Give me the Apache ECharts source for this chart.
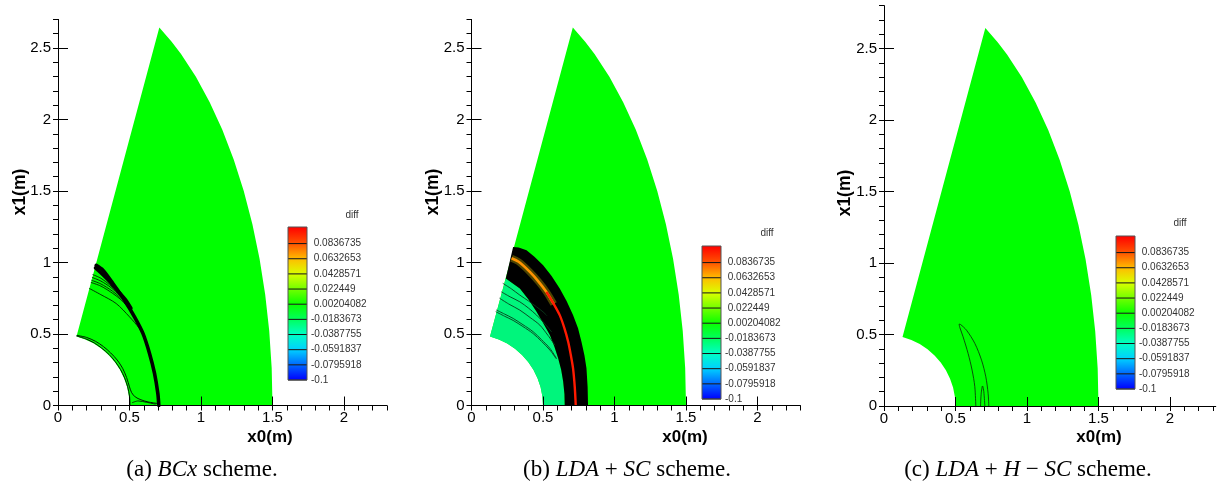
<!DOCTYPE html>
<html>
<head>
<meta charset="utf-8">
<script src="https://cdn.jsdelivr.net/npm/echarts@6/dist/echarts.min.js"></script>
<style>
  html, body { margin: 0; padding: 0; background: #fff; }
  #chart { width: 1217px; height: 491px; }
</style>
</head>
<body>
<div id="chart"></div>
<script>
// ---- axis ticks (metres) ----
const majorX = [0, 0.5, 1, 1.5, 2];
const majorY = [0, 0.5, 1, 1.5, 2, 2.5];
const minorX = [0, 0.1, 0.2, 0.3, 0.4, 0.5, 0.6, 0.7, 0.8, 0.9, 1, 1.1, 1.2, 1.3, 1.4, 1.5, 1.6, 1.7, 1.8, 1.9, 2, 2.1, 2.2, 2.3];
const minorY = [0, 0.1, 0.2, 0.3, 0.4, 0.5, 0.6, 0.7, 0.8, 0.9, 1, 1.1, 1.2, 1.3, 1.4, 1.5, 1.6, 1.7, 1.8, 1.9, 2, 2.1, 2.2, 2.3, 2.4, 2.5, 2.6, 2.7, 2.8];

// ---- contour legend levels ----
const cbTicks = [-0.1, -0.0795918, -0.0591837, -0.0387755, -0.0183673, 0.00204082, 0.022449, 0.0428571, 0.0632653, 0.0836735];
const cbLabels = ['-0.1', '-0.0795918', '-0.0591837', '-0.0387755', '-0.0183673', '0.00204082', '0.022449', '0.0428571', '0.0632653', '0.0836735'];
const cbTop = 0.106;

// ---- computational domain ----
const outerEdge = [[1.5, 0], [1.4943, 0.2615], [1.4772, 0.5209], [1.4489, 0.7765], [1.4095, 1.0261], [1.3595, 1.2679], [1.299, 1.5], [1.2287, 1.7207], [1.1491, 1.9284], [1.0607, 2.1213], [0.9642, 2.2981], [0.8604, 2.4575], [0.7949, 2.5441], [0.7086, 2.6438]];
const innerArc = [[0.1294, 0.483], [0.1913, 0.4619], [0.25, 0.433], [0.3044, 0.3967], [0.3536, 0.3536], [0.3967, 0.3044], [0.433, 0.25], [0.4619, 0.1913], [0.483, 0.1294], [0.4957, 0.0653], [0.5, 0]];

// ---- (a) BCx ----
const aShock = [[0.267, 0.98], [0.314, 0.946], [0.384, 0.853], [0.465, 0.736], [0.535, 0.62], [0.594, 0.504], [0.64, 0.364], [0.675, 0.225], [0.698, 0.085], [0.705, 0]];
const aShockTop = [[0.262, 0.962], [0.3, 0.928], [0.36, 0.868], [0.42, 0.8], [0.47, 0.742], [0.51, 0.68]];
const aFan1 = [[0.244, 0.915], [0.3, 0.89], [0.36, 0.845], [0.42, 0.79], [0.47, 0.74]];
const aFan2 = [[0.24, 0.895], [0.3, 0.87], [0.37, 0.825], [0.43, 0.77], [0.48, 0.725]];
const aFan3 = [[0.236, 0.875], [0.3, 0.85], [0.38, 0.8], [0.44, 0.75], [0.5, 0.69]];
const aFan4 = [[0.232, 0.86], [0.3, 0.835], [0.384, 0.783], [0.44, 0.74], [0.477, 0.701], [0.52, 0.65]];
const aFan5 = [[0.22, 0.818], [0.3, 0.775], [0.407, 0.713], [0.5, 0.62], [0.57, 0.539], [0.594, 0.504]];
const aInner1 = [[0.131, 0.486], [0.194, 0.466], [0.253, 0.438], [0.307, 0.4], [0.357, 0.357], [0.4, 0.307], [0.437, 0.252], [0.466, 0.193], [0.487, 0.131], [0.5, 0.066], [0.504, 0]];
const aInner2 = [[0.134, 0.49], [0.2, 0.476], [0.262, 0.449], [0.318, 0.412], [0.368, 0.368], [0.414, 0.318], [0.452, 0.26], [0.48, 0.195], [0.5, 0.13], [0.515, 0.09], [0.54, 0.06], [0.58, 0.04], [0.63, 0.025], [0.69, 0.015]];
const aFoot = [[0.52, 0.02], [0.56, 0.032], [0.62, 0.022], [0.68, 0.01]];

// ---- (b) LDA + SC ----
const bBandOuter = [[0.291, 1.108], [0.33, 1.105], [0.385, 1.085], [0.44, 1.04], [0.501, 0.98], [0.56, 0.905], [0.617, 0.818], [0.665, 0.73], [0.71, 0.632], [0.745, 0.54], [0.769, 0.446], [0.79, 0.35], [0.804, 0.261], [0.812, 0.13], [0.815, 0]];
const bBandInner = [[0.24, 0.888], [0.338, 0.818], [0.4, 0.74], [0.455, 0.655], [0.505, 0.57], [0.548, 0.493], [0.58, 0.41], [0.606, 0.33], [0.627, 0.25], [0.641, 0.167], [0.65, 0.08], [0.652, 0]];
const bRed = [[0.524, 0.794], [0.575, 0.71], [0.617, 0.632], [0.65, 0.54], [0.676, 0.446], [0.695, 0.35], [0.71, 0.261], [0.722, 0.13], [0.729, 0]];
const bOrange = [[0.28, 1.03], [0.33, 1.005], [0.408, 0.934], [0.47, 0.865], [0.524, 0.794], [0.575, 0.71]];
const bC1 = [[0.221, 0.853], [0.28, 0.815], [0.338, 0.772], [0.4, 0.73], [0.455, 0.69], [0.5, 0.655], [0.524, 0.632]];
const bC2 = [[0.21, 0.794], [0.27, 0.76], [0.338, 0.725], [0.4, 0.68], [0.455, 0.632], [0.51, 0.575], [0.559, 0.516]];
const bC3 = [[0.198, 0.749], [0.26, 0.71], [0.338, 0.667], [0.41, 0.615], [0.478, 0.562], [0.535, 0.49], [0.583, 0.423]];
const bC4 = [[0.175, 0.667], [0.23, 0.64], [0.291, 0.609], [0.36, 0.565], [0.431, 0.516], [0.49, 0.46], [0.548, 0.4], [0.594, 0.33]];
const bC5 = [[0.172, 0.655], [0.23, 0.625], [0.291, 0.595], [0.36, 0.552], [0.431, 0.503], [0.49, 0.448], [0.548, 0.388], [0.59, 0.33]];

// ---- (c) LDA + H - SC ----
const cLoopOuter = [[0.642, 0], [0.635, 0.135], [0.616, 0.251], [0.588, 0.368], [0.553, 0.484], [0.53, 0.55], [0.525, 0.572], [0.535, 0.57], [0.577, 0.53], [0.635, 0.438], [0.682, 0.321], [0.712, 0.204], [0.728, 0.089], [0.733, 0]];
const cLoopInner = [[0.675, 0], [0.68, 0.09], [0.689, 0.14], [0.698, 0.1], [0.705, 0]];

// ---- styling / layout ----
const SANS = '"Liberation Sans", Arial, Helvetica, sans-serif';
const SERIF = '"Liberation Serif", "Times New Roman", serif';
const PX = 143;            // pixels per metre, both axes (equal aspect)
const GREEN = '#00ff00';
const MINT = '#00f57c';

const layout = [
  { left: 58, base: 405.5, xMax: 2.3, yMax: 2.7, cbLeft: 288, cbBottom: 380, diff: [352, 215], xName: [270, 437], yName: [20, 192], caption: [202, 470], text: '(a) {i|BCx} scheme.' },
  { left: 471.5, base: 405.5, xMax: 2.3, yMax: 2.7, cbLeft: 702, cbBottom: 399, diff: [767, 233], xName: [685, 437], yName: [433, 192], caption: [627, 470], text: '(b) {i|LDA} + {i|SC} scheme.' },
  { left: 884, base: 406, xMax: 2.32, yMax: 2.8, cbLeft: 1116, cbBottom: 389, diff: [1180, 223], xName: [1099, 437], yName: [845, 193], caption: [1028, 470], text: '(c) {i|LDA} + {i|H} \u2212 {i|SC} scheme.' }
];

function hueColor(v) {
  const h = Math.max(0, Math.min(240, (0.1 - v) * 1200));
  return 'hsl(' + h.toFixed(1) + ',100%,50%)';
}

const cbBands = cbTicks.map((t, i) => [t, i < cbTicks.length - 1 ? cbTicks[i + 1] : cbTop]);

const grids = [], xAxes = [], yAxes = [], series = [], graphics = [];

layout.forEach((L, p) => {
  const gMain = grids.length;
  grids.push({ left: L.left, top: L.base - L.yMax * PX, width: L.xMax * PX, height: L.yMax * PX });
  const gBar = grids.length;
  grids.push({ left: L.cbLeft, top: L.cbBottom - 153, width: 19, height: 153 });

  const xMaj = xAxes.length;
  xAxes.push({
    type: 'value', gridIndex: gMain, min: 0, max: L.xMax, z: 10,
    axisLine: { show: true, onZero: false, lineStyle: { color: '#000', width: 1 } },
    axisTick: { show: true, inside: true, length: 9, customValues: majorX, lineStyle: { color: '#000', width: 1 } },
    axisLabel: { customValues: majorX, margin: 5, fontSize: 15, color: '#000', fontFamily: SANS },
    splitLine: { show: false }
  });
  xAxes.push({
    type: 'value', gridIndex: gMain, min: 0, max: L.xMax, z: 10,
    axisLine: { show: false },
    axisTick: { show: true, inside: true, length: 5, customValues: minorX.filter(v => v <= L.xMax + 1e-9), lineStyle: { color: '#000', width: 1 } },
    axisLabel: { show: false }, splitLine: { show: false }
  });
  const xBar = xAxes.length;
  xAxes.push({ type: 'value', gridIndex: gBar, min: 0, max: 1, show: false });

  const yMaj = yAxes.length;
  yAxes.push({
    type: 'value', gridIndex: gMain, min: 0, max: L.yMax, z: 10,
    axisLine: { show: true, onZero: false, lineStyle: { color: '#000', width: 1 } },
    axisTick: { show: true, inside: true, length: 10, customValues: majorY, lineStyle: { color: '#000', width: 1 } },
    axisLabel: { customValues: majorY, margin: 7, fontSize: 15, color: '#000', fontFamily: SANS },
    splitLine: { show: false }
  });
  yAxes.push({
    type: 'value', gridIndex: gMain, min: 0, max: L.yMax, z: 10,
    axisLine: { show: false },
    axisTick: { show: true, inside: true, length: 5, customValues: minorY.filter(v => v <= L.yMax + 1e-9), lineStyle: { color: '#000', width: 1 } },
    axisLabel: { show: false }, splitLine: { show: false }
  });
  const yBar = yAxes.length;
  yAxes.push({
    type: 'value', gridIndex: gBar, min: -0.1, max: cbTop, position: 'right',
    axisLine: { show: false }, axisTick: { show: false }, splitLine: { show: false },
    axisLabel: {
      customValues: cbTicks, margin: 4, fontSize: 10, color: '#333', fontFamily: SANS, align: 'left',
      formatter: v => {
        const i = cbTicks.findIndex(t => Math.abs(t - v) < 1e-9);
        const s = i >= 0 ? cbLabels[i] : String(v);
        return s.charAt(0) === '-' ? s : ' ' + s;
      }
    }
  });

  const ax = { xAxisIndex: xMaj, yAxisIndex: yMaj, silent: true, animation: false };
  const poly = (pts, fill, z) => Object.assign({
    type: 'custom', data: [0], z: z,
    renderItem: (params, api) => ({ type: 'polygon', shape: { points: pts.map(q => api.coord(q)) }, style: { fill: fill } })
  }, ax);
  const line = (pts, color, width, z, cap) => Object.assign({
    type: 'line', data: pts, symbol: 'none', smooth: 0.3, z: z,
    lineStyle: { color: color, width: width, cap: cap || 'round', join: 'round' }
  }, ax);

  // flooded domain
  series.push(poly(outerEdge.concat(innerArc), GREEN, 1));

  if (p === 0) {
    series.push(line(aInner1, '#000', 0.9, 4));
    series.push(line(aInner2, '#000', 0.9, 4));
    series.push(line(aFoot, '#000', 0.8, 4));
    [aFan1, aFan2, aFan3, aFan4, aFan5].forEach(f => series.push(line(f, '#000', 0.8, 4)));
    series.push(line(aShockTop, '#000', 3.5, 5));
    series.push(line(aShock, '#000', 3.6, 5));
  } else if (p === 1) {
    series.push(poly(innerArc.concat(bBandInner.slice().reverse()), MINT, 2));
    series.push(poly(bBandOuter.concat(bBandInner.slice().reverse()), '#000', 3));
    [bC1, bC2, bC3, bC4, bC5].forEach(f => series.push(line(f, '#0a3a1c', 0.9, 4)));
    // speckled shock core
    series.push(line(bOrange, 'rgba(170,150,0,0.45)', 7, 4, 'butt'));
    series.push(line(bOrange, '#ff9200', 2.6, 5, 'butt'));
    series.push(line(bRed, '#ff1a00', 2.4, 5, 'butt'));
  } else {
    series.push(line(cLoopOuter, '#0b3b0b', 0.9, 4));
    series.push(line(cLoopInner, '#0b3b0b', 0.9, 4));
  }

  // contour legend bar
  series.push({
    type: 'custom', xAxisIndex: xBar, yAxisIndex: yBar, data: cbBands.map((b, i) => i), z: 3,
    silent: true, animation: false,
    renderItem: (params, api) => {
      const b = cbBands[params.dataIndex];
      const tl = api.coord([0, b[1]]);
      const br = api.coord([1, b[0]]);
      return {
        type: 'group', children: [
          { type: 'rect', shape: { x: tl[0], y: tl[1], width: br[0] - tl[0], height: br[1] - tl[1] },
            style: { fill: { type: 'linear', x: 0, y: 0, x2: 0, y2: 1, colorStops: [{ offset: 0, color: hueColor(b[1]) }, { offset: 1, color: hueColor(b[0]) }] } } },
          { type: 'line', shape: { x1: tl[0], y1: br[1], x2: br[0], y2: br[1] }, style: { stroke: '#111', lineWidth: 1 } }
        ]
      };
    }
  });
  series.push({
    type: 'custom', xAxisIndex: xBar, yAxisIndex: yBar, data: [0], z: 4, silent: true, animation: false,
    renderItem: (params, api) => {
      const tl = api.coord([0, cbTop]);
      const br = api.coord([1, -0.1]);
      return { type: 'rect', shape: { x: tl[0], y: tl[1], width: br[0] - tl[0], height: br[1] - tl[1] }, style: { fill: 'none', stroke: '#555', lineWidth: 1 } };
    }
  });

  // texts
  graphics.push({ type: 'text', x: L.diff[0], y: L.diff[1], style: { text: 'diff', fontSize: 10, fontFamily: SANS, fill: '#333', textAlign: 'center', textVerticalAlign: 'middle' } });
  graphics.push({ type: 'text', x: L.xName[0], y: L.xName[1], style: { text: 'x0(m)', fontSize: 17, fontWeight: 'bold', fontFamily: SANS, fill: '#000', textAlign: 'center', textVerticalAlign: 'middle' } });
  graphics.push({ type: 'text', x: L.yName[0], y: L.yName[1], rotation: Math.PI / 2, style: { text: 'x1(m)', fontSize: 17.5, fontWeight: 'bold', fontFamily: SANS, fill: '#000', textAlign: 'center', textVerticalAlign: 'middle' } });
  graphics.push({ type: 'text', x: L.caption[0], y: L.caption[1], style: {
    text: L.text, fontSize: 23, fontFamily: SERIF, fill: '#000', textAlign: 'center', textVerticalAlign: 'middle',
    rich: { i: { fontSize: 23, fontFamily: SERIF, fontStyle: 'italic', fill: '#000' } }
  } });
});

const chart = echarts.init(document.getElementById('chart'), null, { renderer: 'canvas' });
chart.setOption({
  backgroundColor: '#fff',
  animation: false,
  grid: grids,
  xAxis: xAxes,
  yAxis: yAxes,
  series: series,
  graphic: graphics
});
</script>
</body>
</html>
